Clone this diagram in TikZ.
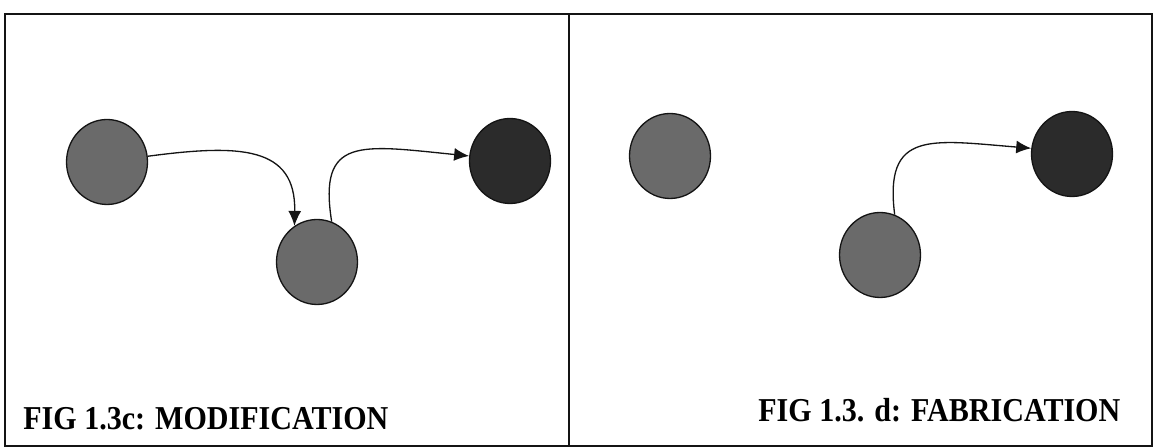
\documentclass[tikz,border=0pt]{standalone}
\usepackage{fontspec}
\setmainfont{Liberation Serif}
\usepackage{tikz}
\usetikzlibrary{arrows.meta,positioning,shapes.geometric}
\definecolor{DotGray}{HTML}{6A6A6A}
\definecolor{DotDark}{HTML}{2B2B2B}
\definecolor{LineDark}{HTML}{141414}
\tikzset{
  dotnode/.style={ellipse,draw=LineDark,line width=0.75pt,fill=DotGray,minimum width=1.62cm,minimum height=1.7cm,inner sep=0pt},
  darknode/.style={dotnode,fill=DotDark},
  flowarrow/.style={-{Latex[length=3mm,width=2.6mm]},line width=0.75pt,draw=LineDark},
  framebox/.style={draw=LineDark,line width=0.8pt},
  caption/.style={anchor=base west,inner sep=0pt,font=\bfseries\fontsize{19}{19}\selectfont}
}

\begin{document}
\begin{tikzpicture}[x=0.02cm,y=0.02cm]
\useasboundingbox (0,0) rectangle (1153,448);
\draw[framebox] (5,2) rectangle (1152,434);
\draw[framebox] (569,2) -- (569,434);
% left panel
\node[dotnode] (a) at (107,286) {};
\node[dotnode] (b) at (317,186) {};
\node[darknode] (c) at (510,287) {};
\draw[flowarrow] (a.8) .. controls (240,304) and (296,302) .. (b.122);
\draw[flowarrow] (b.70) .. controls (318,312) and (360,303) .. (c.173);
\node[caption] (capc) at (23,18) {\scalebox{0.9}[1]{FIG 1.3c: MODIFICATION}};
% right panel
\node[dotnode] (d) at (670,292) {};
\node[dotnode] (e) at (880,193) {};
\node[darknode] (f) at (1072,294) {};
\draw[flowarrow] (e.70) .. controls (884,318) and (930,308) .. (f.172);
\node[caption] (capd) at (758,26) {\scalebox{0.9}[1]{FIG 1.3. d: FABRICATION}};
\end{tikzpicture}
\end{document}
